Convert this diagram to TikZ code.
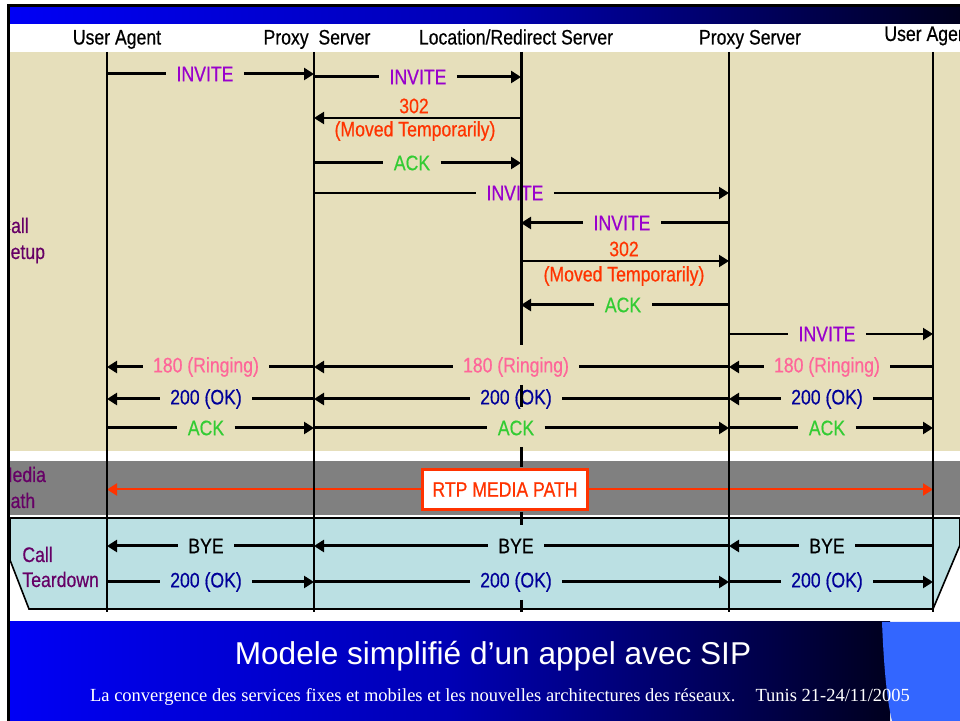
\documentclass[tikz,border=0pt]{standalone}
\usepackage{fontspec}
\usetikzlibrary{arrows.meta}
\newfontfamily\narrowsans{Liberation Sans}[FakeStretch=0.84, FakeBold=0.5]
\newfontfamily\titlesans{Liberation Sans}
\newfontfamily\footserif{Liberation Serif}
\definecolor{tanbg}{RGB}{230,223,187}
\definecolor{tealbg}{RGB}{187,224,227}
\definecolor{mediabg}{RGB}{128,128,128}
\definecolor{barblue}{RGB}{0,0,245}
\definecolor{barmid}{RGB}{0,0,180}
\definecolor{barnavy}{RGB}{0,0,30}
\definecolor{tabblue}{RGB}{51,102,255}
\definecolor{invcol}{RGB}{153,0,204}
\definecolor{redircol}{RGB}{255,51,0}
\definecolor{ackcol}{RGB}{51,204,51}
\definecolor{ringcol}{RGB}{255,102,153}
\definecolor{okcol}{RGB}{0,0,153}
\definecolor{phasecol}{RGB}{102,0,102}

\begin{document}
\begin{tikzpicture}[x=0.5pt, y=-0.5pt, font=\narrowsans\fontsize{10.5}{12}\selectfont,
	msg/.style={line width=1.5pt, -{Triangle[length=5pt,width=6pt]}},
	thinmsg/.style={msg, line width=1pt},
	plain/.style={line width=1.5pt},
	thin plain/.style={line width=1pt},
	lbl/.style={inner xsep=5pt, inner ysep=1pt},
	life/.style={line width=1pt},
	title/.style={anchor=base},
	phase/.style={anchor=base west, inner sep=0pt, text=phasecol}]
	\useasboundingbox (0,0) rectangle (960,721);
	\clip (0,0) rectangle (960,721);
	\fill[white] (0,0) rectangle (960,721);
	\shade[left color=barblue, right color=barnavy, middle color=barmid] (10,7) rectangle (960,24);
	\fill[tanbg] (10,52) rectangle (960,451);
	\fill[mediabg] (10,461) rectangle (960,515);
	\filldraw[fill=tealbg, line width=0.8pt] (10,518) -- (960,518) -- (960,545) -- (933,609) -- (29,609) -- (10,560) -- cycle;
	\shade[left color=barblue, right color=barnavy, middle color=barmid] (10,622) rectangle (890,721);
	\fill[tabblue] (882,622) .. controls (884,670) and (887,700) .. (892,721) -- (960,721) -- (960,622) -- cycle;
	\node[title] (ua1-title) at (117,44.5) {User Agent};
	\node[title] (px1-title) at (317,44.5) {Proxy\ \ Server};
	\node[title] (loc-title) at (516,44.5) {Location/Redirect Server};
	\node[title] (px2-title) at (750,44.5) {Proxy Server};
	\node[anchor=base west, inner sep=0pt] (ua2-title) at (884,41) {User Agent};
	\begin{scope}
	\clip (10,0) rectangle (960,721);
	\node[phase] (setup-a) at (-2,233) {Call};
	\node[phase] (setup-b) at (-1.5,259) {Setup};
	\node[phase] (media-a) at (-2.5,482) {Media};
	\node[phase] (media-b) at (-1.5,508) {Path};
	\end{scope}
	\node[phase] (down-a) at (22,562) {Call};
	\node[phase] (down-b) at (22,587) {Teardown};
	\node[text=white, font=\titlesans\fontsize{15.8}{18}\selectfont, anchor=base] (slide-title) at (493,665) {Modele simplifié d’un appel avec SIP};
	\node[text=white, font=\footserif\fontsize{9.25}{11}\selectfont, anchor=base] (slide-foot) at (500,702) {La convergence des services fixes et mobiles et les nouvelles architectures des réseaux.\hspace{10pt}Tunis 21-24/11/2005};
	\coordinate (ua1) at (107,52);
	\coordinate (px1) at (314,52);
	\coordinate (loc) at (521,52);
	\coordinate (px2) at (729,52);
	\coordinate (ua2) at (933,52);
	\coordinate (ua1-end) at (107,612);
	\coordinate (px1-end) at (314,612);
	\coordinate (loc-cut) at (521,345);
	\coordinate (px2-end) at (729,612);
	\coordinate (ua2-end) at (933,612);
	\node[lbl, text=invcol] (inv1) at (205,74) {INVITE};
	\draw[plain] (ua1 |- inv1) -- (inv1.west);
	\draw[msg] (inv1.east) -- (px1 |- inv1);
	\node[lbl, text=invcol] (inv2) at (418,77) {INVITE};
	\draw[plain] (px1 |- inv2) -- (inv2.west);
	\draw[msg] (inv2.east) -- (loc |- inv2);
	\coordinate (redir1) at (0,118);
	\node[text=redircol] (redir1-code) at (414,106) {302};
	\node[text=redircol] (redir1-text) at (415,131) {(Moved Temporarily)};
	\draw[thinmsg] (loc |- redir1) -- (px1 |- redir1);
	\node[lbl, text=ackcol] (ack1) at (412,163) {ACK};
	\draw[plain] (px1 |- ack1) -- (ack1.west);
	\draw[msg] (ack1.east) -- (loc |- ack1);
	\node[lbl, text=invcol] (inv3) at (515,193) {INVITE};
	\draw[thin plain] (px1 |- inv3) -- (inv3.west);
	\draw[thinmsg] (inv3.east) -- (px2 |- inv3);
	\node[lbl, text=invcol] (inv4) at (622,223) {INVITE};
	\draw[plain] (px2 |- inv4) -- (inv4.east);
	\draw[msg] (inv4.west) -- (loc |- inv4);
	\coordinate (redir2) at (0,261);
	\node[text=redircol] (redir2-code) at (624,249) {302};
	\node[text=redircol] (redir2-text) at (624,276) {(Moved Temporarily)};
	\draw[thinmsg] (loc |- redir2) -- (px2 |- redir2);
	\node[lbl, text=ackcol] (ack2) at (623,305) {ACK};
	\draw[plain] (px2 |- ack2) -- (ack2.east);
	\draw[msg] (ack2.west) -- (loc |- ack2);
	\node[lbl, text=invcol] (inv5) at (827,334) {INVITE};
	\draw[thin plain] (px2 |- inv5) -- (inv5.west);
	\draw[thinmsg] (inv5.east) -- (ua2 |- inv5);
	\foreach \y/\txt/\col/\nm in {367/180 (Ringing)/ringcol/ring,399/200 (OK)/okcol/ok,546/BYE/black/bye} {
		\node[lbl, text=\col] (\nm-a) at (206,\y) {\txt};
		\node[lbl, text=\col] (\nm-b) at (516,\y) {\txt};
		\node[lbl, text=\col] (\nm-c) at (827,\y) {\txt};
		\draw[plain] (ua2 |- \nm-c) -- (\nm-c.east);
		\draw[msg] (\nm-c.west) -- (px2 |- \nm-c);
		\draw[plain] (px2 |- \nm-b) -- (\nm-b.east);
		\draw[msg] (\nm-b.west) -- (px1 |- \nm-b);
		\draw[plain] (px1 |- \nm-a) -- (\nm-a.east);
		\draw[msg] (\nm-a.west) -- (ua1 |- \nm-a);
	}
	\foreach \y/\txt/\col/\nm in {428/ACK/ackcol/ack,582/200 (OK)/okcol/done} {
		\node[lbl, text=\col] (\nm-a) at (206,\y) {\txt};
		\node[lbl, text=\col] (\nm-b) at (516,\y) {\txt};
		\node[lbl, text=\col] (\nm-c) at (827,\y) {\txt};
		\draw[plain] (ua1 |- \nm-a) -- (\nm-a.west);
		\draw[msg] (\nm-a.east) -- (px1 |- \nm-a);
		\draw[plain] (px1 |- \nm-b) -- (\nm-b.west);
		\draw[msg] (\nm-b.east) -- (px2 |- \nm-b);
		\draw[plain] (px2 |- \nm-c) -- (\nm-c.west);
		\draw[msg] (\nm-c.east) -- (ua2 |- \nm-c);
	}
	\node[draw=redircol, line width=1.5pt, fill=white, text=redircol, minimum width=82.5pt, minimum height=20pt] (rtp) at (505,489.5) {RTP MEDIA PATH};
	\draw[redircol, line width=1pt, -{Triangle[length=5pt,width=6pt]}] (rtp.west) -- (ua1 |- rtp);
	\draw[redircol, line width=1pt, -{Triangle[length=5pt,width=6pt]}] (rtp.east) -- (ua2 |- rtp);
	\draw[life] (ua1) -- (ua1-end);
	\draw[life] (px1) -- (px1-end);
	\draw[life] (px2) -- (px2-end);
	\draw[life] (ua2) -- (ua2-end);
	\draw[life, line width=1.5pt] (loc) -- (loc-cut);
	\foreach \a/\b in {385/407,447/467,512/525,600/612}
		\draw[life, line width=1.5pt] (521,\a) -- (521,\b);
	\draw[line width=1.5pt] (8.5,721) -- (8.5,5.5) -- (960,5.5);
\end{tikzpicture}
\end{document}
